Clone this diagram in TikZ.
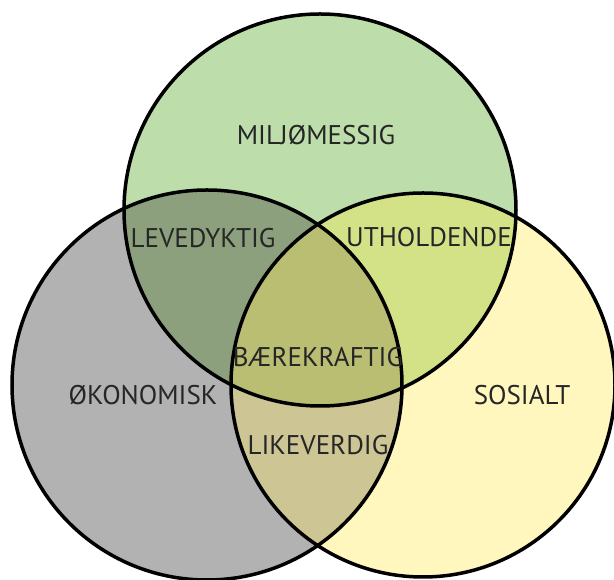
\documentclass[tikz,border=0pt]{standalone}
\usepackage{fontspec}
\setmainfont{PT Sans}
\definecolor{miljo}{RGB}{189,222,170}
\definecolor{okonomi}{RGB}{178,178,178}
\definecolor{sosial}{RGB}{255,247,190}
\definecolor{leve}{RGB}{140,160,125}
\definecolor{utholde}{RGB}{212,226,135}
\definecolor{likeverd}{RGB}{205,197,148}
\definecolor{baere}{RGB}{185,190,115}
\begin{document}
\begin{tikzpicture}[x=1pt,y=1pt,
  venntext/.style={font=\fontsize{27}{27}\selectfont,text=black!85,inner sep=0pt},
  ring/.style={line width=3.5pt}]
\useasboundingbox (0,0) rectangle (614,580);
%circles
\def\miljoring{(320,370) circle[radius=196pt]}
\def\okoring{(207,195) circle[radius=195pt]}
\def\sosring{(423,195) circle[radius=192pt]}
%fill circles
\fill[miljo] \miljoring;
\fill[okonomi] \okoring;
\fill[sosial] \sosring;
%fill overlaps
\begin{scope}
\clip \miljoring;
\fill[leve] \okoring;
\fill[utholde] \sosring;
\end{scope}
\begin{scope}
\clip \okoring;
\fill[likeverd] \sosring;
\clip \sosring;
\fill[baere] \miljoring;
\end{scope}
%draw outlines
\draw[ring] \miljoring;
\draw[ring] \okoring;
\draw[ring] \sosring;
%draw labels
\node[venntext] (miljo) at (316,445) {MILJØMESSIG};
\node[venntext] (leve) at (203,342) {LEVEDYKTIG};
\node[venntext] (utholde) at (429,343) {UTHOLDENDE};
\node[venntext] (baere) at (318,223) {BÆREKRAFTIG};
\node[venntext] (okonomi) at (143,185) {ØKONOMISK};
\node[venntext] (sosial) at (522,185) {SOSIALT};
\node[venntext] (likeverd) at (318,135) {LIKEVERDIG};
\end{tikzpicture}
\end{document}
